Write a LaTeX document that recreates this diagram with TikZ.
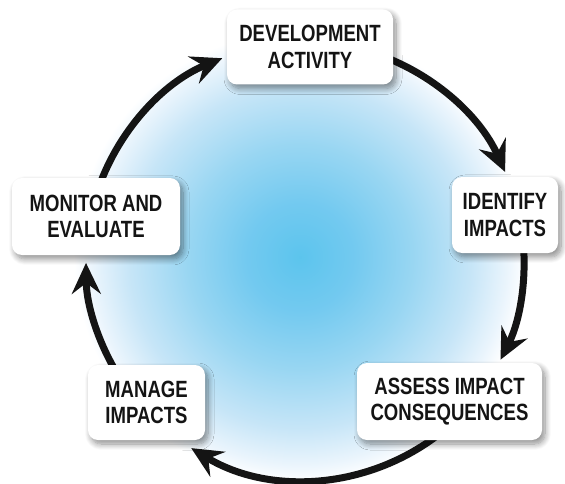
\documentclass[tikz,border=0pt]{standalone}
\usepackage{fontspec}
\newfontfamily\boxfont{Liberation Sans}[FakeStretch=0.79]
\usetikzlibrary{arrows.meta,shadows.blur,calc}
\pgfdeclarelayer{bg}
\pgfsetlayers{bg,main}
\pgfdeclareradialshading{bluefade}{\pgfpoint{0bp}{0bp}}{rgb(0bp)=(0.36,0.77,0.93); rgb(6bp)=(0.45,0.79,0.94); rgb(12.5bp)=(0.60,0.84,0.95); rgb(19bp)=(0.78,0.90,0.97); rgb(23bp)=(0.92,0.96,0.99); rgb(25bp)=(1,1,1); rgb(50bp)=(1,1,1)}
\definecolor{ink}{RGB}{20,20,20}
\tikzset{
  stagebox/.style={rectangle, rounded corners=10pt, fill=white, align=center, inner sep=0pt,
    font=\boxfont\bfseries\fontsize{23.5}{26.5}\selectfont, text=ink,
    blur shadow={shadow xshift=3pt, shadow yshift=-4pt, shadow blur steps=10, shadow opacity=45, shadow blur radius=6pt}},
  flow/.style={line width=7pt, draw=ink, -{Stealth[length=31pt,width=29pt,inset=11pt]}}
}
\begin{document}
\begin{tikzpicture}[x=1pt,y=1pt]
\useasboundingbox (0,0) rectangle (565,483);
\coordinate (O) at (305,222);
% nodes
\node[stagebox, minimum width=166pt, minimum height=75pt] (dev) at (310,436) {DEVELOPMENT\\ACTIVITY};
\node[stagebox, minimum width=106pt, minimum height=76pt] (ide) at (505,268) {IDENTIFY\\IMPACTS};
\node[stagebox, minimum width=185pt, minimum height=77pt] (ass) at (449.5,81.5) {ASSESS IMPACT\\CONSEQUENCES};
\node[stagebox, minimum width=117pt, minimum height=75pt] (man) at (146.5,80.5) {MANAGE\\IMPACTS};
\node[stagebox, minimum width=168pt, minimum height=77pt] (mon) at (96,266.5) {MONITOR AND\\EVALUATE};
% arc start points
\coordinate (s1) at ($(O)+(162:219)$);
\coordinate (s2) at ($(O)+(72:219)$);
\coordinate (s3) at ($(O)+(8:219)$);
\coordinate (s4) at ($(O)+(-50:219)$);
\coordinate (s5) at ($(O)+(-146:219)$);
\begin{pgfonlayer}{bg}
  \shade[shading=bluefade] (300,226) circle[radius=226pt];
  \draw[flow] (s1) arc[start angle=162, end angle=112.2, radius=219pt];
  \draw[flow] (s2) arc[start angle=72, end angle=24, radius=219pt];
  \draw[flow] (s3) arc[start angle=8, end angle=-26.8, radius=219pt];
  \draw[flow] (s4) arc[start angle=-50, end angle=-121.3, radius=219pt];
  \draw[flow] (s5) arc[start angle=-146, end angle=-179.5, radius=219pt];
\end{pgfonlayer}
\end{tikzpicture}
\end{document}
